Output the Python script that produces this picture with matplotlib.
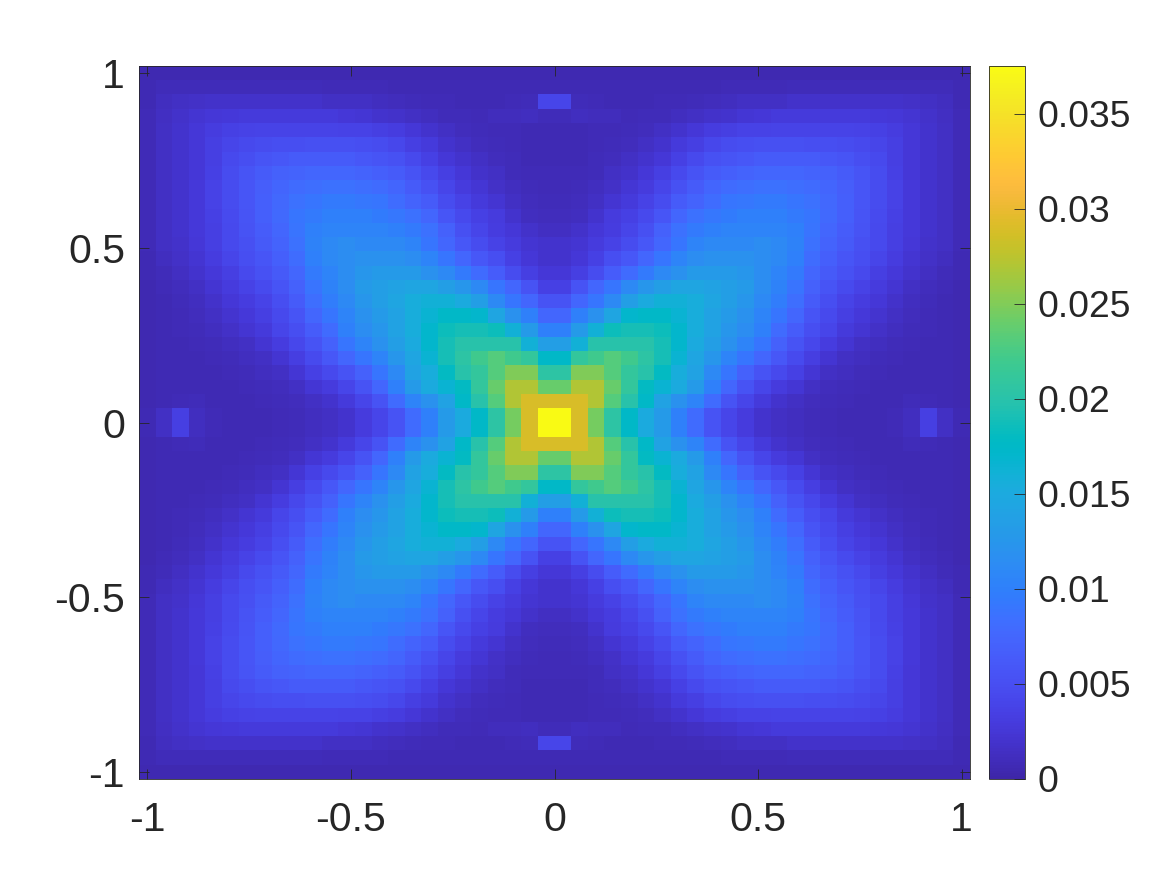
import numpy as np
import matplotlib
matplotlib.use('Agg')
import matplotlib.pyplot as plt
from matplotlib.colors import LinearSegmentedColormap

plt.rcParams['font.family'] = ['Liberation Sans', 'DejaVu Sans']
plt.rcParams['axes.unicode_minus'] = False

# upper right quadrant, values in 1e-3, first row/col next to the centre
quadrant = [
    [37.5, 29, 24.5, 20.5, 17.5, 15, 13, 10, 8, 5.5, 4, 3, 2, 1.6, 1.2, 1, .8, .7, .7, .7, .8, 1.2, 3.5, 1.5, .6],
    [29, 29, 27, 23, 20, 17.5, 14, 12, 10.5, 8, 5.5, 4, 2.8, 2, 1.5, 1.1, .9, .8, .7, .7, .7, 1, .8, .7, .5],
    [24, 27, 27, 24, 21, 18, 16.5, 15, 13, 10, 7.5, 5.5, 4, 3, 2.4, 1.6, 1.1, .9, .8, .7, .6, .6, .6, .6, .5],
    [20.5, 25, 25, 23, 21, 20, 18, 15.5, 14, 11, 9, 7, 5.5, 4.5, 3.6, 2.4, 1.6, 1.2, .9, .8, .7, .7, .6, .6, .5],
    [17.5, 21, 22, 23, 22, 20.5, 19, 16.5, 14.5, 12.5, 10.5, 9, 7.5, 6, 4.6, 3.3, 2.3, 1.6, 1.2, .9, .8, .7, .6, .6, .5],
    [13.5, 16, 20, 20, 20, 20, 19, 17, 15, 13.5, 12, 10.5, 9, 7, 5.5, 4.3, 3.1, 2.2, 1.6, 1.2, .9, .8, .7, .6, .5],
    [10, 13, 16, 18.5, 19, 19, 18.5, 17, 15.5, 14, 12.5, 11.5, 10, 8, 6.5, 5, 4, 2.9, 2.2, 1.7, 1.3, .9, .8, .7, .5],
    [7.5, 10, 12, 14.5, 17, 17.5, 17.5, 16.5, 15.5, 14, 13, 12, 10.5, 9, 7.5, 5.6, 4.4, 3.4, 2.7, 2.1, 1.5, 1.1, .8, .7, .5],
    [5.5, 7.5, 9, 11, 13.5, 15, 16, 16, 15.5, 14.5, 13.5, 12.5, 11, 9.8, 8.3, 6.3, 5, 3.9, 3.1, 2.5, 1.8, 1.3, .9, .7, .5],
    [3.6, 5.5, 7.5, 9, 11, 12.5, 13.5, 14.5, 14.5, 14, 13.5, 13, 11.5, 10.3, 8.8, 7, 5.6, 4.6, 3.7, 3, 2.3, 1.6, 1.1, .8, .5],
    [2.6, 3.5, 4.8, 6.5, 8, 9.5, 11, 12, 13, 13, 13, 12.5, 11.5, 10.5, 9.5, 7.5, 6.2, 5.3, 4.4, 3.5, 2.7, 2, 1.4, 1, .6],
    [2, 2.6, 3.6, 5, 6, 7.5, 9, 10.5, 11.5, 12, 12, 12, 11.5, 11, 10, 8.2, 6.8, 5.8, 5, 4, 3.1, 2.3, 1.7, 1.3, .7],
    [2, 2.2, 3, 3.8, 4.8, 6, 7.5, 9, 10.5, 11, 11, 11, 11.5, 11, 10.3, 8.5, 7.2, 6.2, 5.2, 4.5, 3.4, 2.6, 1.9, 1.5, .8],
    [1.4, 1.8, 2.6, 3.2, 4, 5.2, 7, 8.5, 9.5, 10, 10.5, 10.5, 10.5, 10.5, 10, 8.8, 7.6, 6.5, 5.5, 4.5, 3.5, 2.7, 2, 1.5, .8],
    [1.1, 1.3, 2, 3, 3.6, 4.4, 5.8, 7.5, 8.5, 9.2, 9.6, 10, 10, 10, 9.5, 9, 7.8, 6.8, 5.6, 4.6, 3.6, 2.7, 2, 1.5, .8],
    [.9, 1.1, 1.5, 2.2, 2.9, 3.8, 4.8, 6.3, 7.3, 8.2, 9, 9.2, 9.5, 9.5, 9, 8.5, 7.7, 6.8, 5.8, 4.8, 3.7, 2.7, 2, 1.5, .8],
    [.8, .9, 1.2, 1.7, 2.4, 3, 4, 5.3, 6.4, 7.4, 8, 8.3, 8.5, 8.5, 8.3, 8, 7.4, 6.7, 5.8, 4.8, 3.7, 2.7, 2, 1.5, .8],
    [.8, .8, 1, 1.5, 1.9, 2.6, 3.4, 4.5, 5.5, 6.3, 6.8, 7.2, 7.5, 7.5, 7.5, 7.3, 6.9, 6.3, 5.6, 4.7, 3.6, 2.6, 2, 1.5, .8],
    [.7, .7, .9, 1.1, 1.5, 2, 2.6, 3.6, 4.5, 5.3, 5.7, 6, 6.3, 6.4, 6.4, 6.3, 6, 5.6, 5.1, 4.5, 3.5, 2.6, 2, 1.5, .8],
    [.7, .7, .8, .9, 1.1, 1.5, 2, 2.8, 3.5, 4.3, 4.7, 5, 5.2, 5.2, 5.2, 5.1, 5, 4.8, 4.4, 4, 3.4, 2.5, 2, 1.5, .8],
    [.7, .7, .8, .8, .9, 1.1, 1.5, 2, 2.5, 3.2, 3.5, 3.7, 3.8, 3.9, 3.9, 3.9, 3.9, 3.9, 3.8, 3.6, 3.2, 2.5, 2, 1.5, .8],
    [.9, 1.3, 1.1, 1.1, .8, .9, 1, 1.3, 1.6, 1.8, 2, 2.4, 2.6, 2.8, 2.8, 2.8, 2.8, 2.8, 2.8, 2.7, 2.5, 2.2, 1.8, 1.4, .8],
    [4, 1, .8, .7, .7, .7, .8, .8, 1, 1.1, 1.3, 1.5, 1.6, 1.6, 1.8, 1.8, 1.8, 1.8, 1.8, 1.8, 1.8, 1.7, 1.5, 1.2, .7],
    [.7, .6, .6, .6, .6, .6, .6, .6, .7, .7, .8, .8, .8, .8, 1, 1, 1, 1, 1, 1, 1, 1, 1, .9, .7],
    [.5, .5, .5, .5, .5, .5, .5, .5, .5, .5, .5, .5, .5, .5, .5, .5, .5, .5, .5, .5, .5, .5, .5, .5, .5],
]

x_ticks = [-1, -0.5, 0, 0.5, 1]
x_labels = ['-1', '-0.5', '0', '0.5', '1']
cbar_ticks = [0, 0.005, 0.01, 0.015, 0.02, 0.025, 0.03, 0.035]
cbar_labels = ['0', '0.005', '0.01', '0.015', '0.02', '0.025', '0.03', '0.035']

# parula
parula = [
    [0.2422, 0.1504, 0.6603], [0.2504, 0.1650, 0.7076], [0.2578, 0.1818, 0.7511], [0.2647, 0.1978, 0.7952],
    [0.2706, 0.2147, 0.8364], [0.2751, 0.2342, 0.8710], [0.2783, 0.2559, 0.8991], [0.2803, 0.2782, 0.9221],
    [0.2813, 0.3006, 0.9414], [0.2810, 0.3228, 0.9579], [0.2795, 0.3447, 0.9717], [0.2760, 0.3667, 0.9829],
    [0.2699, 0.3892, 0.9906], [0.2602, 0.4123, 0.9952], [0.2440, 0.4358, 0.9988], [0.2206, 0.4603, 0.9973],
    [0.1963, 0.4847, 0.9892], [0.1834, 0.5074, 0.9798], [0.1786, 0.5289, 0.9682], [0.1764, 0.5499, 0.9520],
    [0.1687, 0.5703, 0.9359], [0.1540, 0.5902, 0.9218], [0.1460, 0.6091, 0.9079], [0.1380, 0.6276, 0.8973],
    [0.1248, 0.6459, 0.8883], [0.1113, 0.6635, 0.8763], [0.0952, 0.6798, 0.8598], [0.0689, 0.6948, 0.8394],
    [0.0297, 0.7082, 0.8163], [0.0036, 0.7203, 0.7917], [0.0067, 0.7312, 0.7660], [0.0433, 0.7411, 0.7394],
    [0.0964, 0.7500, 0.7120], [0.1408, 0.7584, 0.6842], [0.1717, 0.7670, 0.6554], [0.1938, 0.7758, 0.6251],
    [0.2161, 0.7843, 0.5923], [0.2470, 0.7918, 0.5567], [0.2906, 0.7973, 0.5188], [0.3406, 0.8008, 0.4789],
    [0.3909, 0.8029, 0.4354], [0.4456, 0.8024, 0.3909], [0.5044, 0.7993, 0.3480], [0.5616, 0.7942, 0.3045],
    [0.6174, 0.7876, 0.2612], [0.6720, 0.7793, 0.2227], [0.7242, 0.7698, 0.1910], [0.7738, 0.7598, 0.1646],
    [0.8203, 0.7498, 0.1535], [0.8634, 0.7406, 0.1596], [0.9035, 0.7330, 0.1774], [0.9393, 0.7288, 0.2100],
    [0.9728, 0.7298, 0.2394], [0.9956, 0.7434, 0.2371], [0.9970, 0.7659, 0.2199], [0.9952, 0.7893, 0.2028],
    [0.9892, 0.8136, 0.1885], [0.9786, 0.8386, 0.1766], [0.9676, 0.8639, 0.1643], [0.9610, 0.8890, 0.1537],
    [0.9597, 0.9135, 0.1423], [0.9628, 0.9373, 0.1265], [0.9691, 0.9606, 0.1064], [0.9769, 0.9839, 0.0805],
]
cmap = LinearSegmentedColormap.from_list('parula', parula, N=256)

TEXT = '#262626'
W, H = 1167, 875

# the plot is mirrored both ways around the centre
q = np.array(quadrant) * 1e-3
right = np.vstack([q[::-1], q])
grid = np.hstack([right[:, ::-1], right])

# cell centres run from -1 to 1, so the limits go half a cell further
half = 1 / (grid.shape[0] - 1)
lim = 1 + half

fig = plt.figure(figsize=(W / 100, H / 100), dpi=100)
ax = fig.add_axes([139 / W, (H - 779) / H, 831 / W, 713 / H])
im = ax.imshow(grid, cmap=cmap, vmin=0, vmax=0.0375, extent=[-lim, lim, -lim, lim],
               aspect='auto', interpolation='nearest')
ax.set_xticks(x_ticks)
ax.set_xticklabels(x_labels)
ax.set_yticks(x_ticks)
ax.set_yticklabels(x_labels)
ax.tick_params(direction='in', top=True, right=True, length=7, width=0.6, color=TEXT,
               labelsize=29.5, labelcolor=TEXT)
ax.tick_params(axis='x', pad=16)
ax.tick_params(axis='y', pad=10)
for s in ax.spines.values():
    s.set_linewidth(0.6)
    s.set_color(TEXT)

cax = fig.add_axes([989 / W, (H - 779) / H, 36 / W, 713 / H])
cb = fig.colorbar(im, cax=cax)
cb.set_ticks(cbar_ticks)
cb.set_ticklabels(cbar_labels)
cb.ax.tick_params(direction='in', length=8, width=0.6, color=TEXT, labelsize=26.8,
                  labelcolor=TEXT, pad=9)
cb.outline.set_linewidth(0.6)
cb.outline.set_edgecolor(TEXT)

fig.savefig('out.png', dpi=100)
